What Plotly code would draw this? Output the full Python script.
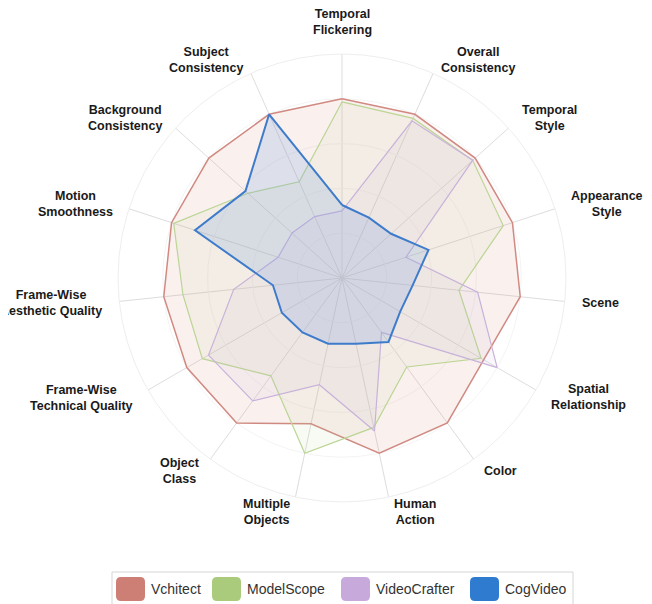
import math
import plotly.graph_objects as go

# Ejes del radar (en sentido horario desde arriba)
dimensiones = [
    "Temporal<br>Flickering", "Overall<br>Consistency", "Temporal<br>Style",
    "Appearance<br>Style", "Scene", "Spatial<br>Relationship", "Color",
    "Human<br>Action", "Multiple<br>Objects", "Object<br>Class",
    "Frame-Wise<br>Technical Quality", "Frame-Wise<br>Aesthetic Quality",
    "Motion<br>Smoothness", "Background<br>Consistency", "Subject<br>Consistency",
]

# Valores normalizados
vchitect = [0.80, 0.80, 0.80, 0.80, 0.80, 0.73, 0.80, 0.80, 0.665, 0.80, 0.80, 0.80, 0.80, 0.80, 0.80]
modelscope = [0.786, 0.78, 0.785, 0.757, 0.525, 0.717, 0.491, 0.682, 0.80, 0.54, 0.72, 0.714, 0.79, 0.565, 0.47]
videocrafter = [0.30, 0.768, 0.786, 0.30, 0.609, 0.80, 0.30, 0.698, 0.487, 0.678, 0.688, 0.486, 0.30, 0.30, 0.30]
cogvideo = [0.326, 0.295, 0.295, 0.406, 0.317, 0.30, 0.353, 0.30, 0.30, 0.30, 0.31, 0.31, 0.69, 0.58, 0.80]

modelos = ["Vchitect", "ModelScope", "VideoCrafter", "CogVideo"]
lineas = ["#D08A82", "#BBD594", "#C8B2DA", "#3E7CCB"]
rellenos = ["rgba(214,150,130,0.13)", "rgba(190,205,150,0.10)",
            "rgba(200,180,220,0.10)", "rgba(120,160,225,0.22)"]
anchos = [1.5, 1.2, 1.2, 2]
colores_leyenda = ["#CD7F76", "#A9CB7B", "#C7A9DC", "#2F7BD0"]

W, H = 652, 604
OFF = 8  # margen del <body> de la página
cx, cy, R = 342, 278, 224  # centro y radio del radar (px de la captura)

fig = go.Figure()

for nombre, valores, linea, relleno, ancho in zip(
        modelos, [vchitect, modelscope, videocrafter, cogvideo], lineas, rellenos, anchos):
    fig.add_trace(go.Scatterpolar(
        r=valores + valores[:1],
        theta=dimensiones + dimensiones[:1],
        mode="lines",
        fill="toself",
        fillcolor=relleno,
        line=dict(color=linea, width=ancho),
        name=nombre,
        showlegend=False,
        hoverinfo="skip",
    ))


def px(v):
    return (v - OFF) / W


def py(v):
    return 1 - (v - OFF) / H


def rect_redondeado(x0, y0, x1, y1, rad=4):
    """Path SVG de un rectángulo redondeado, en coordenadas de papel."""
    return (f"M{px(x0 + rad)},{py(y0)} L{px(x1 - rad)},{py(y0)} "
            f"Q{px(x1)},{py(y0)} {px(x1)},{py(y0 + rad)} L{px(x1)},{py(y1 - rad)} "
            f"Q{px(x1)},{py(y1)} {px(x1 - rad)},{py(y1)} L{px(x0 + rad)},{py(y1)} "
            f"Q{px(x0)},{py(y1)} {px(x0)},{py(y1 - rad)} L{px(x0)},{py(y0 + rad)} "
            f"Q{px(x0)},{py(y0)} {px(x0 + rad)},{py(y0)} Z")


anotaciones = []

# Nombres de los ejes, a 15 px fuera del círculo exterior
n = len(dimensiones)
for i, etiqueta in enumerate(dimensiones):
    ang = math.radians(360 * i / n)
    x = cx + (R + 15) * math.sin(ang)
    y = cy - (R + 15) * math.cos(ang)
    if i == 0:
        xa, ya = "center", "bottom"
    else:
        xa, ya = ("left" if i < n / 2 else "right"), "middle"
    anotaciones.append(dict(text=etiqueta, xref="paper", yref="paper",
                            x=px(x), y=py(y), xanchor=xa, yanchor=ya,
                            align="center", showarrow=False,
                            font=dict(family="Liberation Sans, Arial", size=12.5,
                                      color="#1A1A1A", weight="bold")))

# Leyenda manual con recuadro
formas = [dict(type="rect", xref="paper", yref="paper",
               x0=px(112), x1=px(573), y0=py(612), y1=py(572),
               line=dict(color="#D5D5D5", width=1), fillcolor="white")]
pos_x = [116, 212, 341, 470]
for nombre, color, x in zip(modelos, colores_leyenda, pos_x):
    formas.append(dict(type="path", xref="paper", yref="paper",
                       path=rect_redondeado(x, 577, x + 29, 601, 5),
                       fillcolor=color, line=dict(width=0)))
    anotaciones.append(dict(text=nombre, xref="paper", yref="paper",
                            x=px(x + 33), y=py(589), xanchor="left",
                            yanchor="middle", showarrow=False,
                            font=dict(size=14, color="#333333")))

fig.update_layout(
    width=W,
    height=H,
    paper_bgcolor="white",
    margin=dict(l=0, r=0, t=0, b=0, autoexpand=False),
    font=dict(family="Liberation Sans, Arial", size=13, color="#222222"),
    showlegend=False,
    shapes=formas,
    annotations=anotaciones,
    polar=dict(
        domain=dict(x=[px(cx - R), px(cx + R)], y=[py(cy + R), py(cy - R)]),
        bgcolor="white",
        angularaxis=dict(
            rotation=90,
            direction="clockwise",
            categoryorder="array",
            categoryarray=dimensiones,
            showline=True,
            linecolor="#EEEEEE",
            gridcolor="#DDDDDD",
            ticks="",
            showticklabels=False,
        ),
        radialaxis=dict(
            range=[0, 1],
            showticklabels=False,
            ticks="",
            showline=False,
            tickvals=[0.2, 0.4, 0.6, 0.8],
            gridcolor="#F4F4F4",
        ),
    ),
)

fig.write_html("out.html")
